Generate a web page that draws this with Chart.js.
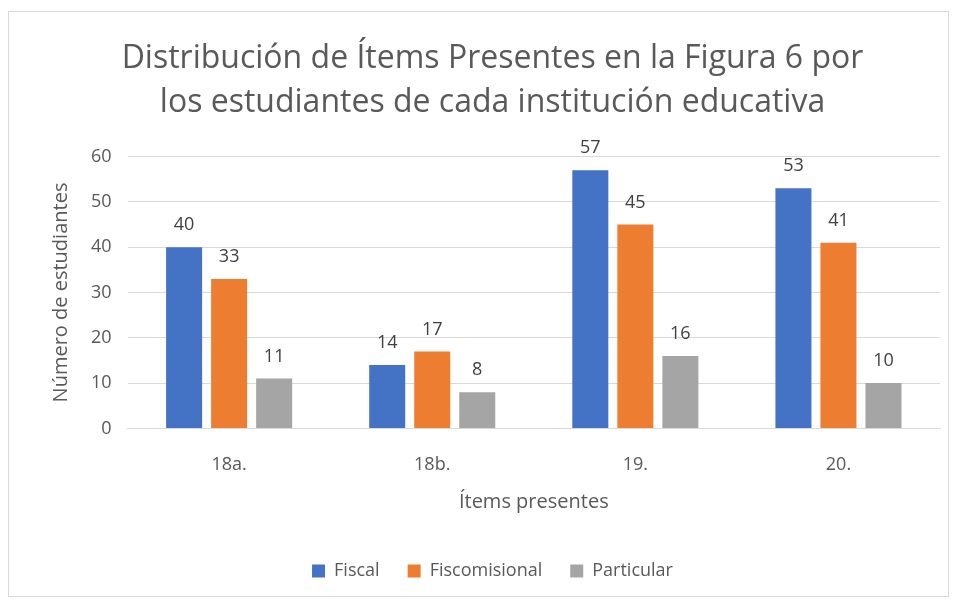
<!DOCTYPE html>
<html>
<head>
<meta charset="utf-8">
<script src="https://cdn.jsdelivr.net/npm/chart.js"></script>
<style>
  body { margin: 0; background: #fff; }
  #box {
    position: absolute; left: 8px; top: 11px;
    width: 941px; height: 586px;
    border: 1px solid #d9d9d9; box-sizing: border-box;
  }
</style>
</head>
<body>
<div id="box"><canvas id="chart"></canvas></div>
<script>
// Chart data
const categories = ["18a.", "18b.", "19.", "20."];
const fiscal = [40, 14, 57, 53];
const fiscomisional = [33, 17, 45, 41];
const particular = [11, 8, 16, 10];
const yTicks = [0, 10, 20, 30, 40, 50, 60];

const FONT = "'Open Sans', 'Liberation Sans', sans-serif";

// draws the value above each bar
const barValues = {
  id: "barValues",
  afterDatasetsDraw(chart) {
    const ctx = chart.ctx;
    ctx.save();
    ctx.font = "18px " + FONT;
    ctx.fillStyle = "#404040";
    ctx.textAlign = "center";
    ctx.textBaseline = "bottom";
    chart.data.datasets.forEach((ds, i) => {
      chart.getDatasetMeta(i).data.forEach((bar, j) => {
        ctx.fillText(ds.data[j], bar.x, bar.y - 13);
      });
    });
    ctx.restore();
  },
};

const chartCanvas = document.getElementById("chart").getContext("2d");

new Chart(chartCanvas, {
  type: "bar",
  data: {
    labels: categories,
    datasets: [
      { label: "Fiscal", data: fiscal, backgroundColor: "#4472c4" },
      { label: "Fiscomisional", data: fiscomisional, backgroundColor: "#ed7d31" },
      { label: "Particular", data: particular, backgroundColor: "#a5a5a5" },
    ],
  },
  options: {
    responsive: true,
    maintainAspectRatio: false,
    animation: false,
    categoryPercentage: 0.665,
    barPercentage: 0.8,
    layout: { padding: { left: 36, right: 8, top: 14, bottom: 6 } },
    scales: {
      x: {
        grid: { display: false },
        border: { color: "#d9d9d9" },
        ticks: { color: "#595959", font: { family: FONT, size: 18 }, padding: 18 },
        title: {
          display: true,
          text: "Ítems presentes",
          color: "#595959",
          font: { family: FONT, size: 20 },
          padding: { top: -4, bottom: 20 },
        },
      },
      y: {
        min: 0,
        max: 60,
        afterBuildTicks: (axis) => {
          axis.ticks = yTicks.map((v) => ({ value: v }));
        },
        grid: { color: "#d9d9d9", drawTicks: false },
        border: { display: false },
        ticks: { color: "#595959", font: { family: FONT, size: 18 }, padding: 16 },
        title: {
          display: true,
          text: "Número de estudiantes",
          color: "#595959",
          font: { family: FONT, size: 20 },
          padding: { bottom: 2 },
        },
      },
    },
    plugins: {
      title: {
        display: true,
        text: ["Distribución de Ítems Presentes en la Figura 6 por", "los estudiantes de cada institución educativa"],
        color: "#595959",
        font: { family: FONT, size: 32, weight: "normal", lineHeight: 1.4 },
        padding: { top: 10, bottom: 31 },
      },
      legend: {
        position: "bottom",
        labels: {
          color: "#595959",
          font: { family: FONT, size: 18 },
          boxWidth: 13,
          boxHeight: 13,
          padding: 28,
        },
      },
      tooltip: { enabled: false },
    },
  },
  plugins: [barValues],
});
</script>
</body>
</html>
